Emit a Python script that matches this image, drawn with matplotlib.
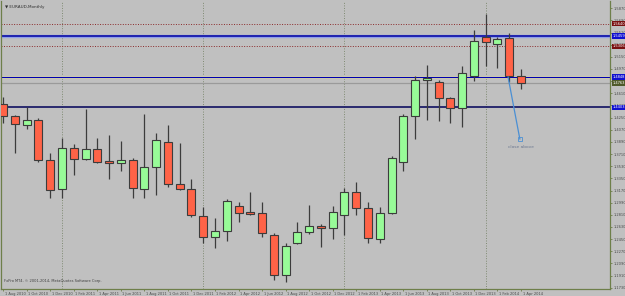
import numpy as np
import matplotlib.pyplot as plt
import matplotlib.transforms as mtransforms

# EURAUD monthly, Aug 2010 .. Apr 2014 ---------------------------
opens = [1.4452, 1.4274, 1.4140, 1.4214, 1.3622, 1.3192, 1.3800, 1.3637, 1.3785, 1.3607,
         1.3577, 1.3622, 1.3192, 1.3518, 1.3889, 1.3266, 1.3192, 1.2792, 1.2481, 1.2570,
         1.2940, 1.2852, 1.2837, 1.2511, 1.1918, 1.2392, 1.2555, 1.2644, 1.2614, 1.2807,
         1.3148, 1.2911, 1.2451, 1.2837, 1.3592, 1.4274, 1.4807, 1.4777, 1.4540, 1.4392,
         1.4866, 1.5444, 1.5340, 1.5429, 1.4866]
highs = [1.4555, 1.4289, 1.4407, 1.4244, 1.3726, 1.3948, 1.3859, 1.4377, 1.3948, 1.3992,
         1.3903, 1.3652, 1.4303, 1.4022, 1.4140, 1.3874, 1.3340, 1.2926, 1.2763, 1.3044,
         1.3000, 1.3148, 1.3000, 1.2540, 1.2392, 1.2703, 1.2955, 1.2674, 1.2940, 1.3207,
         1.3296, 1.3000, 1.2926, 1.3681, 1.4303, 1.4866, 1.5029, 1.4807, 1.4555, 1.5014,
         1.5548, 1.5785, 1.5444, 1.5503, 1.4970]
lows = [1.4170, 1.3726, 1.4081, 1.3592, 1.3059, 1.3059, 1.3400, 1.3622, 1.3577, 1.3340,
        1.3459, 1.3059, 1.3059, 1.3103, 1.3222, 1.3177, 1.2777, 1.2392, 1.2318, 1.2422,
        1.2703, 1.2807, 1.2481, 1.1844, 1.1814, 1.2377, 1.2526, 1.2333, 1.2451, 1.2511,
        1.2807, 1.2392, 1.2392, 1.2822, 1.3459, 1.3933, 1.4214, 1.4200, 1.4170, 1.4111,
        1.4792, 1.5014, 1.4985, 1.4777, 1.4674]
closes = [1.4274, 1.4155, 1.4214, 1.3622, 1.3177, 1.3800, 1.3637, 1.3785, 1.3592, 1.3577,
          1.3622, 1.3207, 1.3518, 1.3918, 1.3266, 1.3192, 1.2807, 1.2481, 1.2570, 1.3014,
          1.2837, 1.2822, 1.2540, 1.1918, 1.2348, 1.2555, 1.2644, 1.2614, 1.2852, 1.3148,
          1.2911, 1.2466, 1.2837, 1.3652, 1.4274, 1.4807, 1.4837, 1.4540, 1.4392, 1.4911,
          1.5385, 1.5370, 1.5414, 1.4866, 1.4763]

date_labels = ["1 Aug 2010", "1 Oct 2010", "1 Dec 2010", "1 Feb 2011", "1 Apr 2011",
               "1 Jun 2011", "1 Aug 2011", "1 Oct 2011", "1 Dec 2011", "1 Feb 2012",
               "1 Apr 2012", "1 Jun 2012", "1 Aug 2012", "1 Oct 2012", "1 Dec 2012",
               "1 Feb 2013", "1 Apr 2013", "1 Jun 2013", "1 Aug 2013", "1 Oct 2013",
               "1 Dec 2013", "1 Feb 2014", "1 Apr 2014"]
year_starts = [5, 17, 29, 41]   # bar index of each January

# user drawn levels
red_levels = [1.5640, 1.5306]
blue_levels = [1.5459, 1.4848]
support_level = 1.4403
trend_bars = [42.9, 43.9]
trend_prices = [1.4851, 1.3933]
note_bar, note_price = 44.0, 1.3814

price_ticks = [1.5870, 1.5690, 1.5510, 1.5330, 1.5150, 1.4970, 1.4790, 1.4610, 1.4430,
               1.4250, 1.4070, 1.3890, 1.3710, 1.3530, 1.3350, 1.3170, 1.2990, 1.2810,
               1.2630, 1.2450, 1.2270, 1.2090, 1.1910, 1.1730]
# ----------------------------------------------------------------

bg = "#c0c0c0"
axis_col = "#6e7f4a"
fs = 2.6
fig = plt.figure(figsize=[6.25, 2.96], dpi=100, facecolor=bg)
ax = fig.add_axes([1/625, 7/296, 609/625, 288/296], facecolor=bg)

x = np.arange(len(opens))
o = np.array(opens); c = np.array(closes)
up = c >= o
body_low = np.minimum(o, c)
body_h = np.maximum(np.abs(c - o), 0.0012)

ax.vlines(x, lows, highs, color="#3c3c3c", lw=0.9, zorder=3)
ax.bar(x[up], body_h[up], bottom=body_low[up], width=0.68, color="#98fb98",
       edgecolor="#3c3c3c", lw=0.8, zorder=4)
ax.bar(x[~up], body_h[~up], bottom=body_low[~up], width=0.68, color="#ff6347",
       edgecolor="#3c3c3c", lw=0.8, zorder=4)

# period separators
for b in year_starts:
    ax.axvline(b, color="#7f8a72", lw=0.7, ls=(0, (1, 1.6)), zorder=1)

# horizontal lines
for lv in red_levels:
    ax.axhline(lv, color="#8b2a2a", lw=0.7, ls=(0, (1, 1.6)), zorder=2)
ax.axhline(blue_levels[0], color="#8f9fe8", lw=2.4, zorder=2)
ax.axhline(blue_levels[0], color="#0000a0", lw=1.1, zorder=2)
ax.axhline(blue_levels[1], color="#e6e4b0", lw=2.2, zorder=2)
ax.axhline(blue_levels[1], color="#0000b0", lw=0.9, zorder=2)
ax.axhline(closes[-1], color="#9a9a9a", lw=0.9, zorder=2)
ax.axhline(support_level, color="#101060", lw=1.2, zorder=2)

# trend line + note
ax.plot(trend_bars, trend_prices, color="#4a8fd4", lw=0.9, zorder=5)
ax.plot(trend_bars[1], trend_prices[1], marker="s", ms=2.2, mfc="none",
        mec="#4a8fd4", mew=0.6, zorder=5)
ax.text(note_bar, note_price, "close above", fontsize=fs + 0.6, color="#6c7890",
        ha="center", va="center", zorder=5)

ax.set_xlim(-0.18, 51.56)
ax.set_ylim(1.1711, 1.5977)

# axes styling
ax.spines["top"].set_visible(False)
for s in ["left", "right", "bottom"]:
    ax.spines[s].set_color(axis_col)
    ax.spines[s].set_linewidth(0.9)

ax.yaxis.tick_right()
ax.set_yticks(price_ticks)
ax.set_yticklabels(["%.4f" % p for p in price_ticks])
ax.tick_params(axis="y", length=1.5, width=0.6, color=axis_col, labelsize=fs,
               labelcolor="#4a4a4a", pad=1)
ax.set_xticks(np.arange(0, len(opens), 2))
ax.set_xticklabels(date_labels)
ax.tick_params(axis="x", length=1.5, width=0.6, color=axis_col, labelsize=fs,
               labelcolor="#4a4a4a", pad=0.8)
offset = mtransforms.ScaledTranslation(1.5/100, 0, fig.dpi_scale_trans)
for lab in ax.get_xticklabels():
    lab.set_horizontalalignment("left")
    lab.set_transform(lab.get_transform() + offset)

# price boxes on the right axis
tr = ax.get_yaxis_transform()
boxes = [(red_levels[0], "#7a1010"), (red_levels[1], "#7a1010"),
         (blue_levels[0], "#1010d0"), (blue_levels[1], "#1010d0"),
         (closes[-1], "#4f5a2a"), (support_level, "#1010d0")]
for lv, col in boxes:
    ax.text(1.004, lv, "%.4f" % lv, transform=tr, fontsize=fs, color="white",
            ha="left", va="center", zorder=10, clip_on=False,
            bbox=dict(boxstyle="square,pad=0.2", fc=col, ec="none"))

ax.text(0.006, 0.985, "\u25bc EURAUD,Monthly", transform=ax.transAxes, fontsize=fs + 0.4,
        color="#303030", ha="left", va="top")
ax.text(0.005, 0.02, "FxPro MT4, \u00a9 2001-2014, MetaQuotes Software Corp.",
        transform=ax.transAxes, fontsize=fs, color="#404040", ha="left", va="bottom")

plt.savefig("out.png", dpi=100, facecolor=bg)
